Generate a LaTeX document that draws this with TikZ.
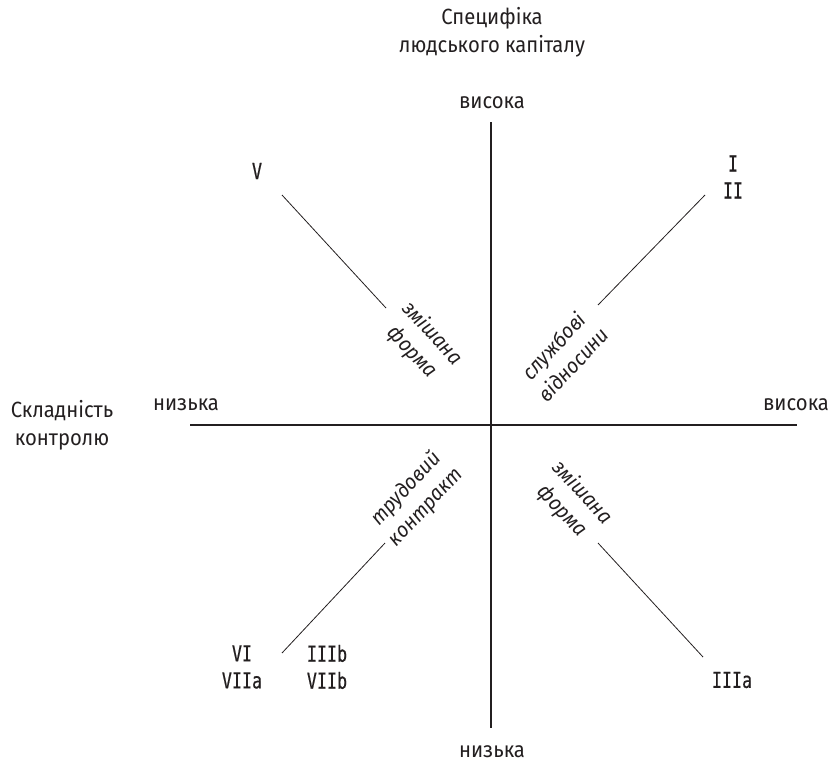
\documentclass[tikz,border=0pt]{standalone}
\usepackage{fontspec}
\setmainfont{Fira Sans}[FakeStretch=0.92]
\newfontfamily\romfont{DejaVu Sans Mono}[FakeStretch=0.76,FakeBold=0.5]
\definecolor{ink}{HTML}{231F20}
\begin{document}
\begin{tikzpicture}[x=1pt,y=-1pt,
  lbl/.style={inner sep=0pt, text=ink, align=center, font=\fontsize{22}{28}\selectfont},
  rom/.style={inner sep=0pt, text=ink, align=center, font=\fontsize{22}{27}\romfont},
  ital/.style={inner sep=0pt, text=ink, align=center, font=\fontsize{21}{27}\selectfont\itshape},
  axis/.style={draw=ink, line width=1.1pt},
  diag/.style={draw=ink, line width=0.8pt}]
\useasboundingbox (0,0) rectangle (834,764);
% axes
\coordinate (vt) at (491,122);
\coordinate (vb) at (491,728);
\coordinate (hl) at (190,425);
\coordinate (hr) at (797,425);
\draw[axis] (vt) -- (vb);
\draw[axis] (hl) -- (hr);
% axis titles
\node[lbl] (ytitle) at (492,32) {Специфіка\\людського капіталу};
\node[lbl] (xtitle) at (62,425) {Складність\\контролю};
\node[lbl] (ytop) at (492,103) {висока};
\node[lbl] (ybot) at (492,752) {низька};
\node[lbl] (xleft) at (186,405) {низька};
\node[lbl] (xright) at (796,405) {висока};
% roman numerals
\node[rom] (nV) at (257,171) {V};
\node[rom] (nI) at (733,177) {I\\II};
\node[rom] (nVI) at (242,667) {VI\\VIIa};
\node[rom] (nIIIb) at (327,667) {IIIb\\VIIb};
\node[rom] (nIIIa) at (732,680) {IIIa};
% diagonals
\coordinate (a1) at (282,195); \coordinate (a2) at (386,308);
\coordinate (b1) at (705,195); \coordinate (b2) at (598,305);
\coordinate (c1) at (282,653); \coordinate (c2) at (385,543);
\coordinate (d1) at (598,543); \coordinate (d2) at (703,657);
\draw[diag] (a1) -- (a2);
\draw[diag] (b1) -- (b2);
\draw[diag] (c1) -- (c2);
\draw[diag] (d1) -- (d2);
% italic labels
\node[ital, rotate=-47] (t1) at (422,343) {змішана\\форма};
\node[ital, rotate=47] (t2) at (563,355) {службові\\відносини};
\node[ital, rotate=47] (t3) at (416,498) {трудовий\\контракт};
\node[ital, rotate=-47] (t4) at (572,502) {змішана\\форма};
\end{tikzpicture}
\end{document}
